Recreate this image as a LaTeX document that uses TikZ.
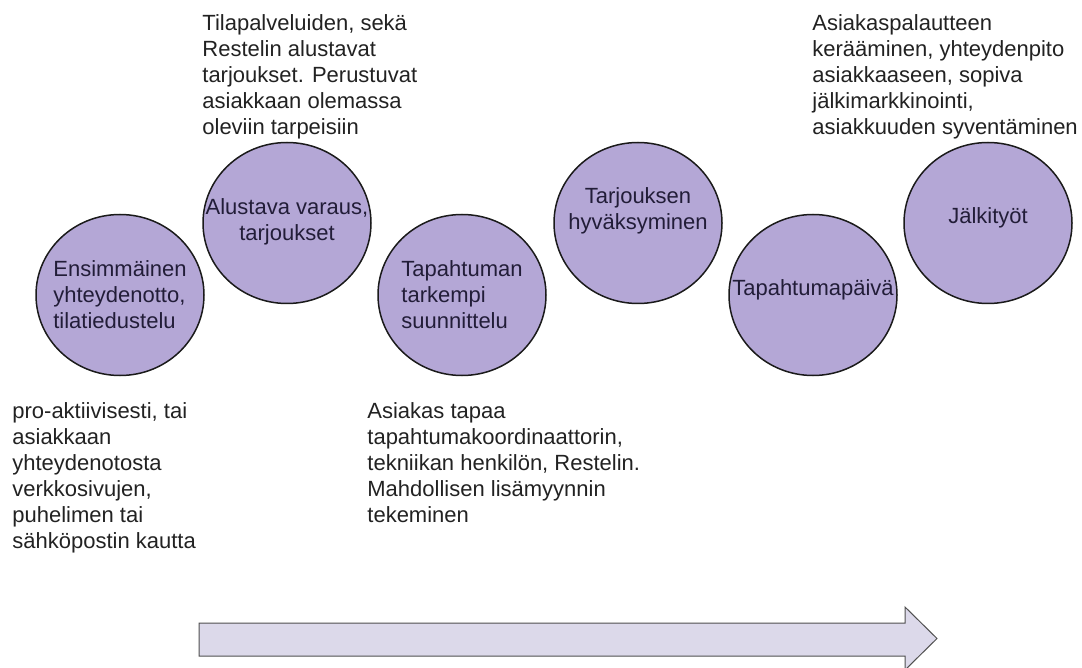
\documentclass[tikz,border=0pt]{standalone}
\usepackage{fontspec}
\setmainfont{Liberation Sans}
\usetikzlibrary{shapes.geometric}
\definecolor{stagefill}{HTML}{B4A7D6}
\definecolor{stageline}{HTML}{1A1A1A}
\definecolor{stageink}{HTML}{221D38}
\definecolor{noteink}{HTML}{222222}
\definecolor{arrowfill}{HTML}{DCD9EA}
\definecolor{arrowline}{HTML}{505050}
\tikzset{
	stage/.style={ellipse, draw=stageline, fill=stagefill, line width=0.75pt,
		minimum width=84pt, minimum height=80.5pt, inner sep=0pt},
	stagetext/.style={text=stageink, inner sep=0pt},
	note/.style={text=noteink, align=left, anchor=north west, inner sep=0pt}
}

\begin{document}
\begin{tikzpicture}[x=0.5pt, y=-0.5pt, font=\fontsize{11}{13}\selectfont]
	\useasboundingbox (0,0) rectangle (1082,668);
	
	% Stages of the process
	\foreach \i/\x/\y in {1/120/295, 2/287/223, 3/462/295, 4/638/223, 5/813/295, 6/988/223} {
		\node[stage] (c\i) at (\x,\y) {};
	}
	
	% Texts inside the stages
	\node[stagetext, align=left] (t1) at (c1) {Ensimmäinen\\yhteydenotto,\\tilatiedustelu};
	\node[stagetext, align=center] (t2) at ([yshift=0.5pt]c2.center) {Alustava varaus,\\tarjoukset};
	\node[stagetext, align=left] (t3) at (c3) {Tapahtuman\\tarkempi\\suunnittelu};
	\node[stagetext, align=center] (t4) at ([yshift=6pt]c4.center) {Tarjouksen\\hyväksyminen};
	\node[stagetext] (t5) at ([yshift=2.5pt]c5.center) {Tapahtumapäivä};
	\node[stagetext] (t6) at ([yshift=2.5pt]c6.center) {Jälkityöt};
	
	% Notes above and below
	\node[note] (n2) at (202,14) {Tilapalveluiden, sekä\\Restelin alustavat\\tarjoukset. Perustuvat\\asiakkaan olemassa\\oleviin tarpeisiin};
	\node[note] (n6) at (812,14) {Asiakaspalautteen\\kerääminen, yhteydenpito\\asiakkaaseen, sopiva\\jälkimarkkinointi,\\asiakkuuden syventäminen};
	\node[note] (n1) at (12,402) {pro-aktiivisesti, tai\\asiakkaan\\yhteydenotosta\\verkkosivujen,\\puhelimen tai\\sähköpostin kautta};
	\node[note] (n3) at (367,402) {Asiakas tapaa\\tapahtumakoordinaattorin,\\tekniikan henkilön, Restelin.\\Mahdollisen lisämyynnin\\tekeminen};
	
	% Time arrow
	\draw[draw=arrowline, fill=arrowfill, line width=0.5pt]
		(199,623) -- (905,623) -- (905,607) -- (937,638.5) -- (905,670) -- (905,656) -- (199,656) -- cycle;
\end{tikzpicture}
\end{document}
